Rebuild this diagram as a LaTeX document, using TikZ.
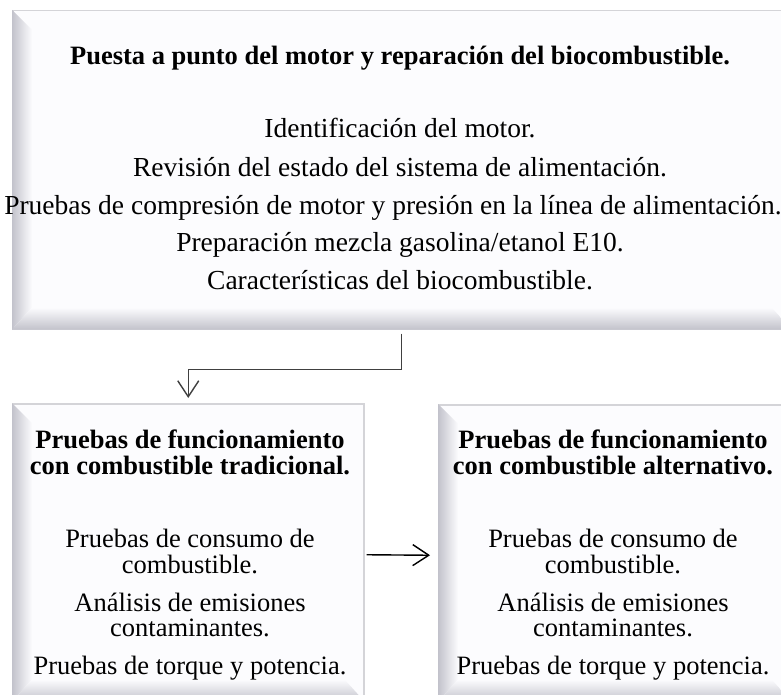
\documentclass[tikz,border=0pt]{standalone}
\usepackage{fontspec}
\setmainfont{Liberation Serif}
\usetikzlibrary{calc,arrows.meta}
\usepackage{xcolor}

\definecolor{panelfill}{HTML}{FCFCFE}
\definecolor{bevelgray}{HTML}{C2C2CB}
\definecolor{edgegray}{HTML}{D4D4D8}

% bevelled left and bottom edges of a panel
\newcommand{\bevel}[1]{%
  \shade[left color=bevelgray, right color=panelfill]
    (#1.north west) -- ($(#1.north west)+(20pt,-20pt)$) -- ($(#1.south west)+(20pt,22pt)$) -- (#1.south west) -- cycle;
  \shade[top color=panelfill, bottom color=bevelgray]
    (#1.south west) -- ($(#1.south west)+(20pt,22pt)$) -- ($(#1.south east)+(-20pt,22pt)$) -- (#1.south east) -- cycle;
}

\begin{document}
\begin{tikzpicture}[x=1pt,y=-1pt]
		\tikzstyle{every node}=[inner sep=0pt]
		\tikzstyle{panel}=[rectangle, fill=panelfill, draw=edgegray, line width=1.5pt, anchor=north west]
		\tikzstyle{title}=[anchor=base, font=\fontsize{26.5}{26}\selectfont\bfseries]
		\tikzstyle{item}=[anchor=base, font=\fontsize{26.5}{26}\selectfont]
		\tikzstyle{bigitem}=[anchor=base, font=\fontsize{27.5}{26}\selectfont]
		\tikzstyle{conn}=[draw=black!75, line width=1.4pt, -{Straight Barb[length=16pt,width=21pt]}]
		\useasboundingbox (0,0) rectangle (781,695);
		\fill[white] (0,0) rectangle (781,695);

		% panels
		\node[panel, minimum width=778pt, minimum height=318pt] (top) at (12,10) {};
		\node[panel, minimum width=351pt, minimum height=297pt] (left) at (12,403) {};
		\node[panel, minimum width=352pt, minimum height=296pt] (right) at (438,404) {};
		\bevel{top}
		\bevel{left}
		\bevel{right}

		% top panel
		\node[title] (topT) at (400,65) {Puesta a punto del motor y reparación del biocombustible.};
		\node[bigitem] (topA) at (400,138) {Identificación del motor.};
		\node[bigitem] (topB) at (400,176) {Revisión del estado del sistema de alimentación.};
		\node[bigitem] (topC) at (393,214) {Pruebas de compresión de motor y presión en la línea de alimentación.};
		\node[bigitem] (topD) at (400,251) {Preparación mezcla gasolina/etanol E10.};
		\node[bigitem] (topE) at (400,289) {Características del biocombustible.};

		% left panel
		\node[title] (leftT1) at (190,448) {Pruebas de funcionamiento};
		\node[title] (leftT2) at (190,474) {con combustible tradicional.};
		\node[item] (leftA) at (190,547) {Pruebas de consumo de};
		\node[item] (leftB) at (190,573) {combustible.};
		\node[item] (leftC) at (190,611) {Análisis de emisiones};
		\node[item] (leftD) at (190,636) {contaminantes.};
		\node[item] (leftE) at (190,674) {Pruebas de torque y potencia.};

		% right panel
		\node[title] (rightT1) at (613,448) {Pruebas de funcionamiento};
		\node[title] (rightT2) at (613,474) {con combustible alternativo.};
		\node[item] (rightA) at (613,547) {Pruebas de consumo de};
		\node[item] (rightB) at (613,573) {combustible.};
		\node[item] (rightC) at (613,611) {Análisis de emisiones};
		\node[item] (rightD) at (613,636) {contaminantes.};
		\node[item] (rightE) at (613,674) {Pruebas de torque y potencia.};

		% connectors
		\draw[conn] ([yshift=-4pt]top.south) -- ++(0,36) -| ([yshift=5pt]left.north);
		\draw[conn, draw=black] ([xshift=2pt,yshift=-2.5pt]left.east) -- ([xshift=-8pt,yshift=-2.5pt]right.west);
\end{tikzpicture}
\end{document}
